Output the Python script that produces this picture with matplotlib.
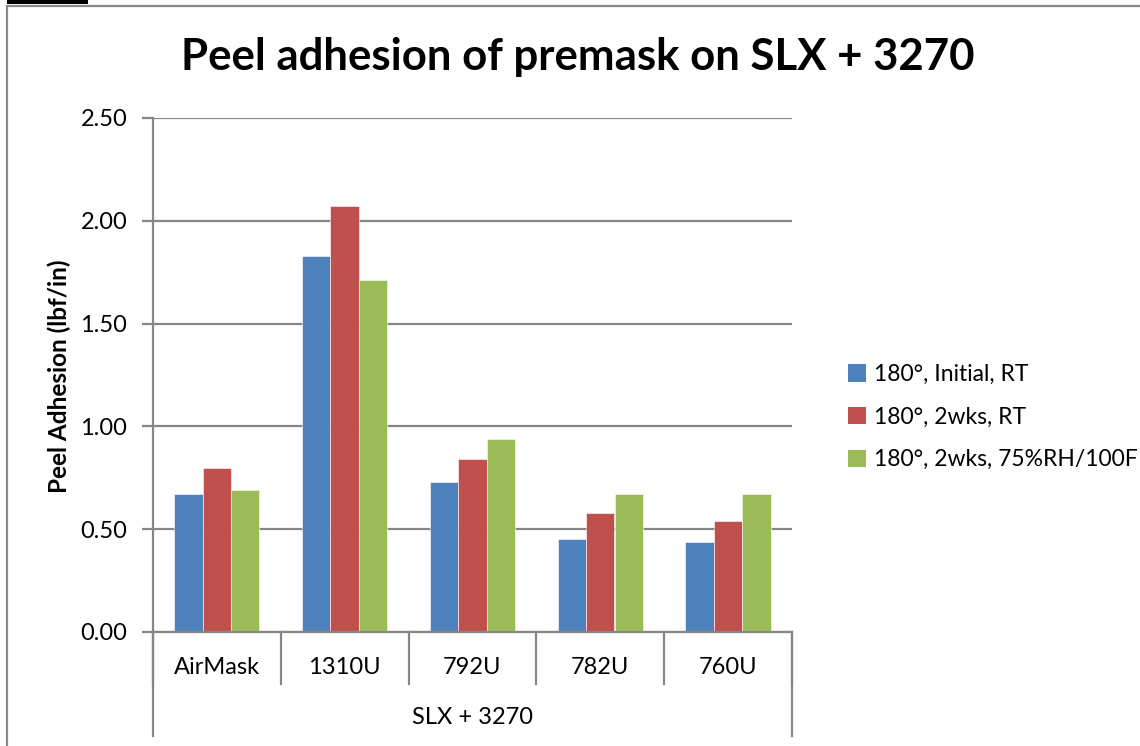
import matplotlib.pyplot as plt
import numpy as np
from matplotlib.patches import Patch, Rectangle
from matplotlib.lines import Line2D

plt.rcParams['font.family'] = ['Lato', 'DejaVu Sans']

categories = ['AirMask', '1310U', '792U', '782U', '760U']
series_names = ['180°, Initial, RT', '180°, 2wks, RT', '180°, 2wks, 75%RH/100F']
initial_rt = [0.67, 1.83, 0.73, 0.45, 0.44]
wks2_rt = [0.80, 2.07, 0.84, 0.58, 0.54]
wks2_humid = [0.69, 1.71, 0.94, 0.67, 0.67]
colors = ['#4F81BD', '#C0504D', '#9BBB59']
group_label = 'SLX + 3270'

W, H = 1140, 746
fig = plt.figure(figsize=(W / 100, H / 100), dpi=100)
ax = fig.add_axes([153 / W, 1 - 632 / H, (792 - 153) / W, (632 - 118) / H])

gray = '#868686'
x = np.arange(len(categories))
bw = 1 / 4.5
for i, (vals, c, name) in enumerate(zip([initial_rt, wks2_rt, wks2_humid], colors, series_names)):
    ax.bar(x + (i - 1) * bw, vals, bw, color=c, label=name, zorder=3,
           edgecolor='white', linewidth=0.4)

ax.set_xlim(-0.5, len(categories) - 0.5)
ax.set_ylim(0, 2.5)
ax.set_yticks(np.arange(0, 2.51, 0.5))
ax.set_yticklabels([f'{v:.2f}' for v in np.arange(0, 2.51, 0.5)])
ax.yaxis.grid(True, color=gray, lw=1.6, zorder=0)
ax.set_xticks([])
for s in ['top', 'right', 'bottom']:
    ax.spines[s].set_visible(False)
ax.spines['left'].set_color(gray)
ax.spines['left'].set_linewidth(1.6)
ax.axhline(0, color=gray, lw=1.6, zorder=4, clip_on=False)
ax.tick_params(axis='y', length=8, width=1.6, color=gray, labelsize=17, pad=10.5)

# category labels and separators
tr = ax.get_xaxis_transform()
for i, cat in enumerate(categories):
    ax.text(i, -0.07, cat, transform=tr, ha='center', va='center', fontsize=17)
for b in np.arange(-0.5, len(categories), 1.0):
    ax.add_line(Line2D([b, b], [0, -0.101], transform=tr, color=gray, lw=1.6, clip_on=False))
for b in [-0.5, len(categories) - 0.5]:
    ax.add_line(Line2D([b, b], [0, -0.203], transform=tr, color=gray, lw=1.6, clip_on=False))
ax.text((len(categories) - 1) / 2, -0.167, group_label, transform=tr, ha='center', va='center', fontsize=17)

# y axis title
fig.text(59 / W, 1 - 376 / H, 'Peel Adhesion (lbf/in)', rotation=90,
         ha='center', va='center', fontsize=17.5, fontweight='bold')

fig.text(578 / W, 1 - 57 / H, 'Peel adhesion of premask on SLX + 3270',
         ha='center', va='center', fontsize=31.5, fontweight='bold')

handles = [Patch(facecolor=c, edgecolor='none') for c in colors]
fig.legend(handles, series_names, loc='center left', bbox_to_anchor=(827 / W, 1 - 417 / H),
           frameon=False, fontsize=16.5, handlelength=0.8, handleheight=0.8,
           handletextpad=0.35, labelspacing=0.95)

# chart border
fig.add_artist(Rectangle((7 / W, -0.1), 1.2, (1 - 6 / H) + 0.1, transform=fig.transFigure,
                         fill=False, edgecolor='#8a8a8a', lw=1.6))
fig.add_artist(Rectangle((7 / W, 1 - 4 / H), 81 / W, 4 / H, transform=fig.transFigure,
                         facecolor='black', edgecolor='none'))

fig.savefig('out.png', dpi=100, facecolor='white')
